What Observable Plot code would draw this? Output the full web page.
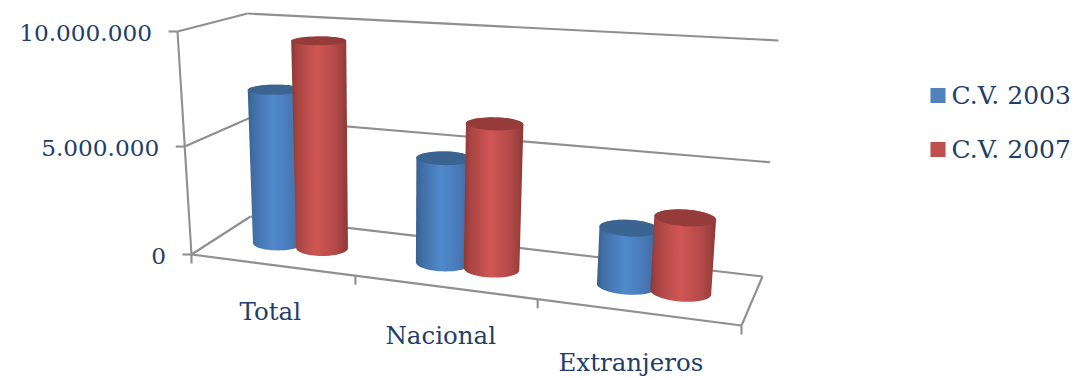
<!DOCTYPE html>
<html>
<head>
<meta charset="utf-8">
<script src="https://cdn.jsdelivr.net/npm/d3@7"></script>
<script src="https://cdn.jsdelivr.net/npm/@observablehq/plot@0.6"></script>
<style>
  html, body { margin: 0; padding: 0; background: #fff; }
  svg { display: block; }
</style>
</head>
<body>
<div id="chart"></div>
<script>
// Chart values
const categories = ["Total", "Nacional", "Extranjeros"];
const seriesNames = ["C.V. 2003", "C.V. 2007"];
const values2003 = [7200000, 4800000, 2550000];
const values2007 = [9500000, 6500000, 3250000];
const valueTicks = [0, 5000000, 10000000];
const valueTickLabels = ["0", "5.000.000", "10.000.000"];

// Box of the 3D scene as seen by the camera: floor and ceiling corners
// ordered front-left, front-right, back-right, back-left.
const floorBox = [[191, 254], [741, 325], [762, 276], [250, 216]];
const ceilBox = [[177, 31], [761, 75], [778, 40], [247, 13]];
const maxValue = 10000000;
const foreshortenU = 0.849, foreshortenV = 0.938;

const persp = (t, a) => a * t / (1 + (a - 1) * t);
const lerp = (p, q, t) => [p[0] + (q[0] - p[0]) * t, p[1] + (q[1] - p[1]) * t];
const onQuad = (q, u, d) => lerp(lerp(q[0], q[1], u), lerp(q[3], q[2], u), d);

// (category position, depth 0..1, value) -> screen position
function project(cat, depth, value) {
  const u = persp(cat / categories.length, foreshortenU);
  const v = persp(value / maxValue, foreshortenV);
  const [x, y] = lerp(onQuad(floorBox, u, depth), onQuad(ceilBox, u, depth), v);
  return {x, y};
}

// Cylinder geometry
const barRadius = 0.15, barDepth = 0.185, barCentre = 0.5;
const ring = (cat, value) => d3.range(48).map(i => {
  const a = i / 48 * 2 * Math.PI;
  return project(cat + barRadius * Math.cos(a), barCentre + barDepth * Math.sin(a), value);
});
const silhouette = (cat, value) =>
  d3.polygonHull([...ring(cat, 0), ...ring(cat, value)].map(p => [p.x, p.y]))
    .map(([x, y]) => ({x, y}));

const seriesStyle = [
  {values: values2003, offset: -0.125, body: "url(#cyl-blue)", cap: "#3c6491", key: "#4f81bd"},
  {values: values2007, offset: 0.15, body: "url(#cyl-red)", cap: "#953c3a", key: "#c0504d"}
];

const shade = (id, stops) => {
  const g = d3.create("svg:linearGradient").attr("id", id);
  stops.forEach(([o, c]) => g.append("stop").attr("offset", o).attr("stop-color", c));
  return g.node();
};
const gradients = () => {
  const defs = d3.create("svg:defs");
  defs.append(() => shade("cyl-blue", [[0, "#39618f"], [0.12, "#4170a8"], [0.45, "#5089cd"], [0.78, "#4878b4"], [1, "#3a6394"]]));
  defs.append(() => shade("cyl-red", [[0, "#8c3937"], [0.12, "#aa4543"], [0.45, "#d05655"], [0.78, "#b34a48"], [1, "#8c3937"]]));
  return defs.node();
};

// Frame of the scene
const gridColor = "#8f8f8f";
const gridWidth = 2.1;
const seg = (a, b) => ({x1: a.x, y1: a.y, x2: b.x, y2: b.y});
const nCat = categories.length;
const frame = [
  ...valueTicks.map(v => seg(project(0, 0, v), project(0, 1, v))),
  ...valueTicks.map(v => seg(project(0, 1, v), project(nCat, 1, v))),
  seg(project(0, 0, 0), project(0, 0, maxValue)),
  seg(project(0, 0, 0), project(nCat, 0, 0)),
  seg(project(nCat, 0, 0), project(nCat, 1, 0))
];
const tickLen = 9;
const valueTickRows = valueTicks.map((v, i) => ({...project(0, 0, v), label: valueTickLabels[i]}));
const catTickRows = d3.range(nCat + 1).map(c => project(c, 0, 0));
const catLabelRows = categories.map((name, i) => ({...project(i + 0.5, 0, -2250000), name}));

const legendRows = seriesNames.map((name, i) => ({name, i, color: seriesStyle[i].key}));
const legendX = 937.5, legendTop = 95, legendStep = 54;

const textColor = "#1f3f69";
const textStyle = size => ({fontSize: size, fill: textColor, stroke: "none"});

const plot = Plot.plot({
  width: 1072,
  height: 378,
  margin: 0,
  x: {type: "identity", axis: null},
  y: {type: "identity", axis: null},
  style: {fontFamily: "'DejaVu Serif', serif", background: "#fff"},
  marks: [
    gradients,
    Plot.link(frame, {x1: "x1", y1: "y1", x2: "x2", y2: "y2", stroke: gridColor, strokeWidth: gridWidth}),
    Plot.link(valueTickRows, {x1: d => d.x - tickLen, x2: "x", y1: "y", y2: "y", stroke: gridColor, strokeWidth: gridWidth}),
    Plot.link(catTickRows, {x1: "x", x2: "x", y1: "y", y2: d => d.y + tickLen, stroke: gridColor, strokeWidth: gridWidth}),
    ...categories.flatMap((_, i) => seriesStyle.flatMap(s => {
      const cat = i + 0.5 + s.offset;
      return [
        Plot.line(silhouette(cat, s.values[i]), {x: "x", y: "y", fill: s.body, stroke: "none", curve: "linear-closed"}),
        Plot.line(ring(cat, s.values[i]), {x: "x", y: "y", fill: s.cap, stroke: "none", curve: "linear-closed"})
      ];
    })),
    Plot.text(valueTickRows, {x: "x", y: "y", text: "label", textAnchor: "end", dx: -25.5, dy: 2, ...textStyle(23.2)}),
    Plot.text(catLabelRows, {x: d => d.x - 3, y: "y", text: "name", ...textStyle(24.5)}),
    Plot.dot(legendRows, {x: () => legendX, y: d => legendTop + d.i * legendStep, r: 8.5, symbol: "square", fill: "color", stroke: "none"}),
    Plot.text(legendRows, {x: () => legendX + 13.5, y: d => legendTop + d.i * legendStep, text: "name", textAnchor: "start", ...textStyle(25)})
  ]
});
document.getElementById("chart").append(plot);
</script>
</body>
</html>
